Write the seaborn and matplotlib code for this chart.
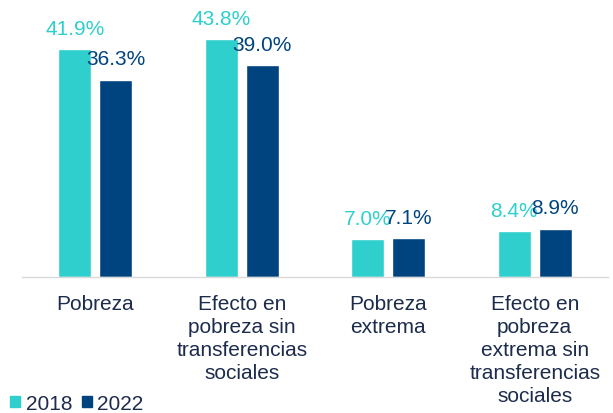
import matplotlib
matplotlib.use("Agg")
import matplotlib.pyplot as plt
import seaborn as sns
import pandas as pd
import numpy as np

categories = ["Pobreza",
              "Efecto en\npobreza sin\ntransferencias\nsociales",
              "Pobreza\nextrema",
              "Efecto en\npobreza\nextrema sin\ntransferencias\nsociales"]
years = ["2018", "2022"]
values_2018 = [41.9, 43.8, 7.0, 8.4]
values_2022 = [36.3, 39.0, 7.1, 8.9]
labels_2018 = ["41.9%", "43.8%", "7.0%", "8.4%"]
labels_2022 = ["36.3%", "39.0%", "7.1%", "8.9%"]

colors = {"2018": "#2ECFCD", "2022": "#00447F"}
text_dark = "#1D2C4C"

df = pd.DataFrame({
    "categoria": categories * 2,
    "year": ["2018"] * 4 + ["2022"] * 4,
    "valor": values_2018 + values_2022,
})

sns.set_theme(style="white")
plt.rcParams["font.family"] = ["Liberation Sans", "DejaVu Sans"]

fig = plt.figure(figsize=(6.13, 4.14), dpi=100)
ax = fig.add_axes([22 / 613, 1 - 278 / 414, (608 - 22) / 613, 278 / 414])

sns.barplot(data=df, x="categoria", y="valor", hue="year", order=categories,
            hue_order=years, palette=colors, width=0.56, gap=0.2,
            saturation=1, ax=ax, legend=True)

ax.set_ylim(0, 51.1)
ax.set_xlim(-0.5, 3.5)

all_labels = {"2018": labels_2018, "2022": labels_2022}
for cont, yr in zip(ax.containers, years):
    ax.bar_label(cont, labels=all_labels[yr], padding=8, fontsize=15,
                 color=colors[yr])

for s in ["top", "right", "left"]:
    ax.spines[s].set_visible(False)
ax.spines["bottom"].set_color("#D9D9D9")
ax.spines["bottom"].set_linewidth(1.0)
ax.set_yticks([])
ax.set_xlabel("")
ax.set_ylabel("")
ax.tick_params(axis="x", which="major", length=0, pad=12, labelsize=15,
               labelcolor=text_dark)
for t in ax.get_xticklabels():
    t.set_linespacing(1.28)
    t.set_verticalalignment("top")
ax.set_xticks(np.arange(-0.5, 4.0, 1.0), minor=True)
ax.tick_params(axis="x", which="minor", length=5, color="#D9D9D9", width=1.0,
               direction="out")

ax.get_legend().remove()
handles = [plt.Rectangle((0, 0), 1, 1, color=colors[y]) for y in years]
fig.legend(handles, years, loc="lower left", bbox_to_anchor=(-0.004, -0.03),
           ncol=2, frameon=False, fontsize=15, handlelength=0.5,
           handleheight=0.5, handletextpad=0.25, columnspacing=0.45,
           labelcolor=text_dark, borderaxespad=0.2)

fig.savefig("out.png", dpi=100)
